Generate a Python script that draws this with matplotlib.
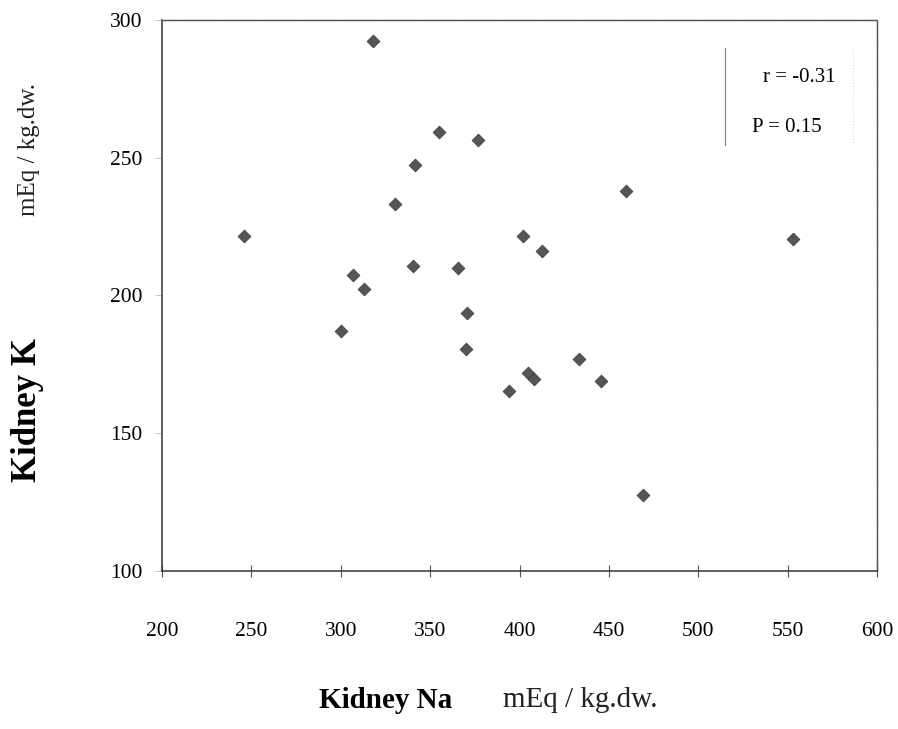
import matplotlib.pyplot as plt
from matplotlib.lines import Line2D

# kidney Na vs kidney K, mEq / kg dry weight
na = [246.0, 300.3, 306.7, 313.0, 317.9, 330.2, 340.3, 341.7, 355.0, 365.6,
      369.9, 370.5, 376.6, 394.3, 402.2, 405.0, 408.1, 412.8, 433.3, 445.6,
      459.6, 469.3, 553.2]
k = [221.5, 187.2, 207.5, 202.4, 292.5, 233.1, 210.7, 247.4, 259.5, 210.1,
     180.5, 193.5, 256.4, 165.4, 221.5, 172.0, 169.8, 216.3, 176.8, 169.1,
     237.9, 127.7, 220.5]

x_ticks = [200, 250, 300, 350, 400, 450, 500, 550, 600]
y_ticks = [100, 150, 200, 250, 300]
r_text = "r = -0.31"
p_text = "P = 0.15"

plt.rcParams["font.family"] = ["Liberation Serif", "DejaVu Serif"]

fig = plt.figure(figsize=(8.98, 7.29), dpi=100)
ax = fig.add_axes([162 / 898, 1 - 571 / 729, (877 - 162) / 898, (571 - 20) / 729])

ax.scatter(na, k, marker="D", s=42, color="#555555", edgecolors="#3f3f3f",
           linewidths=0.6, zorder=3)

ax.set_xlim(200, 600)
ax.set_ylim(100, 300)
ax.set_xticks(x_ticks)
ax.set_yticks(y_ticks)
ax.tick_params(axis="x", direction="inout", length=9, width=0.8,
               color="#555555", pad=32, labelsize=15.5)
ax.tick_params(axis="y", direction="out", length=5, width=0.6,
               color="#bbbbbb", pad=9, labelsize=15.5)

for side in ["left", "bottom"]:
    ax.spines[side].set_color("#333333")
    ax.spines[side].set_linewidth(1.1)
for side in ["top", "right"]:
    ax.spines[side].set_color("#555555")
    ax.spines[side].set_linewidth(1.0)
    ax.spines[side].set_linestyle((0, (1, 0.6)))

# statistics box
fig.add_artist(Line2D([725 / 898, 725 / 898], [1 - 48 / 729, 1 - 145 / 729],
                      color="#888888", lw=0.9))
fig.add_artist(Line2D([853 / 898, 853 / 898], [1 - 50 / 729, 1 - 145 / 729],
                      color="#dddddd", lw=0.8, ls=":"))
fig.text(763 / 898, 1 - 78 / 729, r_text, fontsize=15, va="center", ha="left")
fig.text(752 / 898, 1 - 127 / 729, p_text, fontsize=15, va="center", ha="left")

# axis titles
fig.text(386 / 898, 1 - 700 / 729, "Kidney Na", fontsize=21, fontweight="bold",
         ha="center", va="center")
fig.text(580 / 898, 1 - 700 / 729, "mEq / kg.dw.", fontsize=21,
         ha="center", va="center", color="#222222")
fig.text(28 / 898, 1 - 410 / 729, "Kidney K", fontsize=25, fontweight="bold",
         rotation=90, ha="center", va="center")
fig.text(29 / 898, 1 - 150 / 729, "mEq / kg.dw.", fontsize=18,
         rotation=90, ha="center", va="center", color="#222222")

fig.savefig("out.png", dpi=100, facecolor="white")
